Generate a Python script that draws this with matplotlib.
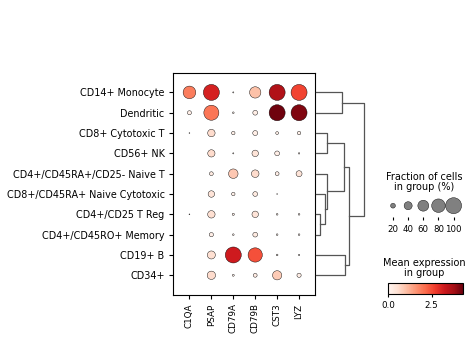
import numpy as np
import matplotlib
matplotlib.use("Agg")
import matplotlib.pyplot as plt
from matplotlib.colors import Normalize
from matplotlib.cm import ScalarMappable

genes = ["C1QA", "PSAP", "CD79A", "CD79B", "CST3", "LYZ"]
groups = ["CD14+ Monocyte", "Dendritic", "CD8+ Cytotoxic T", "CD56+ NK",
          "CD4+/CD45RA+/CD25- Naive T", "CD8+/CD45RA+ Naive Cytotoxic",
          "CD4+/CD25 T Reg", "CD4+/CD45RO+ Memory", "CD19+ B", "CD34+"]

# fraction of cells expressing (%)
frac_pct = np.array([
    [73, 100, 3, 63, 100, 100],
    [16, 92, 5, 20, 100, 100],
    [2, 36, 13, 21, 10, 13],
    [0, 35, 3, 30, 20, 4],
    [0, 15, 50, 37, 15, 27],
    [0, 30, 13, 20, 2, 0],
    [2, 36, 7, 30, 5, 5],
    [0, 17, 5, 20, 5, 5],
    [0, 40, 100, 86, 5, 4],
    [0, 42, 6, 15, 48, 17],
])

# mean expression in group
mean_expr = np.array([
    [1.9, 3.1, 0.05, 1.0, 3.6, 2.6],
    [0.2, 2.0, 0.05, 0.2, 4.25, 4.1],
    [0.1, 0.6, 0.15, 0.2, 0.15, 0.15],
    [0.0, 0.6, 0.1, 0.45, 0.2, 0.1],
    [0.0, 0.3, 0.9, 0.6, 0.2, 0.45],
    [0.0, 0.45, 0.15, 0.3, 0.1, 0.0],
    [0.1, 0.55, 0.15, 0.45, 0.1, 0.1],
    [0.0, 0.2, 0.1, 0.3, 0.1, 0.1],
    [0.0, 0.55, 3.2, 2.45, 0.1, 0.1],
    [0.0, 0.6, 0.15, 0.25, 0.85, 0.2],
])

expr_max = 4.32
size_legend_pct = [20, 40, 60, 80, 100]
cbar_ticks = [0.0, 2.5]
cbar_labels = ["0.0", "2.5"]

# dendrogram merges: (left node, right node, relative height); nodes >= 10 are earlier merges
linkage = [
    (6, 7, 0.082),
    (5, 10, 0.192),
    (4, 11, 0.233),
    (2, 3, 0.239),
    (0, 1, 0.545),
    (13, 12, 0.58),
    (8, 9, 0.612),
    (15, 16, 0.682),
    (14, 17, 1.0),
]

W, H = 474, 344
fig = plt.figure(figsize=(W / 100, H / 100), dpi=100)


def rect(x0, y0, x1, y1):
    return [x0 / W, 1 - y1 / H, (x1 - x0) / W, (y1 - y0) / H]


full_s = 132.7
norm = Normalize(0, expr_max)

# main dot plot
ax = fig.add_axes(rect(173, 72.7, 315.5, 295))
nrow, ncol = len(groups), len(genes)
xx, yy = np.meshgrid(np.arange(ncol) + 0.5, np.arange(nrow) + 0.5)
sizes = (frac_pct / 100.0) ** 1.5 * full_s
ax.scatter(xx.ravel(), yy.ravel(), s=sizes.ravel(), c=mean_expr.ravel(),
           cmap="Reds", norm=norm, edgecolors="black", linewidths=0.3, zorder=3)
ax.set_xlim(-0.25, ncol + 0.25)
ax.set_ylim(nrow + 0.47, -0.47)
ax.set_xticks(np.arange(ncol) + 0.5)
ax.set_xticklabels(genes, rotation=90, fontsize=6.3)
ax.set_yticks(np.arange(nrow) + 0.5)
ax.set_yticklabels(groups, fontsize=6.9)
ax.tick_params(length=2.6, width=0.8, pad=3.5)
for s in ax.spines.values():
    s.set_linewidth(0.8)

# dendrogram
dax = fig.add_axes(rect(315.5, 72.7, 366, 295))
dax.set_ylim(ax.get_ylim())
dax.set_xlim(0, 1.035)
dax.axis("off")
pos = {i: i + 0.5 for i in range(nrow)}
hgt = {i: 0.0 for i in range(nrow)}
for k, (a, b, h) in enumerate(linkage):
    node = nrow + k
    dax.plot([hgt[a], h, h, hgt[b]], [pos[a], pos[a], pos[b], pos[b]],
             color="#555555", lw=0.9, clip_on=False)
    pos[node] = (pos[a] + pos[b]) / 2
    hgt[node] = h

# size legend
fig.text(424.5 / W, 1 - 182 / H, "Fraction of cells\nin group (%)", ha="center",
         va="center", fontsize=7, linespacing=1.0)
sax = fig.add_axes(rect(385, 194.4, 463, 217))
xs = np.arange(len(size_legend_pct))
sax.scatter(xs, np.zeros(len(xs)), s=(np.array(size_legend_pct) / 100.0) ** 1.5 * full_s,
            color="gray", edgecolors="black", linewidths=0.3, zorder=3)
sax.set_xlim(-0.528, -0.528 + 78 / 15.15)
sax.set_ylim(-1, 1)
sax.set_xticks(xs)
sax.set_xticklabels([str(v) for v in size_legend_pct], fontsize=6.2)
sax.tick_params(axis="x", length=2.4, width=0.8, pad=3)
sax.set_yticks([])
for s in sax.spines.values():
    s.set_visible(False)

# colorbar
fig.text(424.5 / W, 1 - 268.3 / H, "Mean expression\nin group", ha="center",
         va="center", fontsize=7, linespacing=1.0)
cax = fig.add_axes(rect(388.3, 283.3, 463.3, 294.3))
cb = fig.colorbar(ScalarMappable(norm=norm, cmap="Reds"), cax=cax,
                  orientation="horizontal", ticks=cbar_ticks)
cb.set_ticklabels(cbar_labels)
cb.ax.tick_params(labelsize=6.3, length=2.5, width=0.8, pad=2)
cb.outline.set_linewidth(0.8)

fig.savefig("out.png", dpi=100)
